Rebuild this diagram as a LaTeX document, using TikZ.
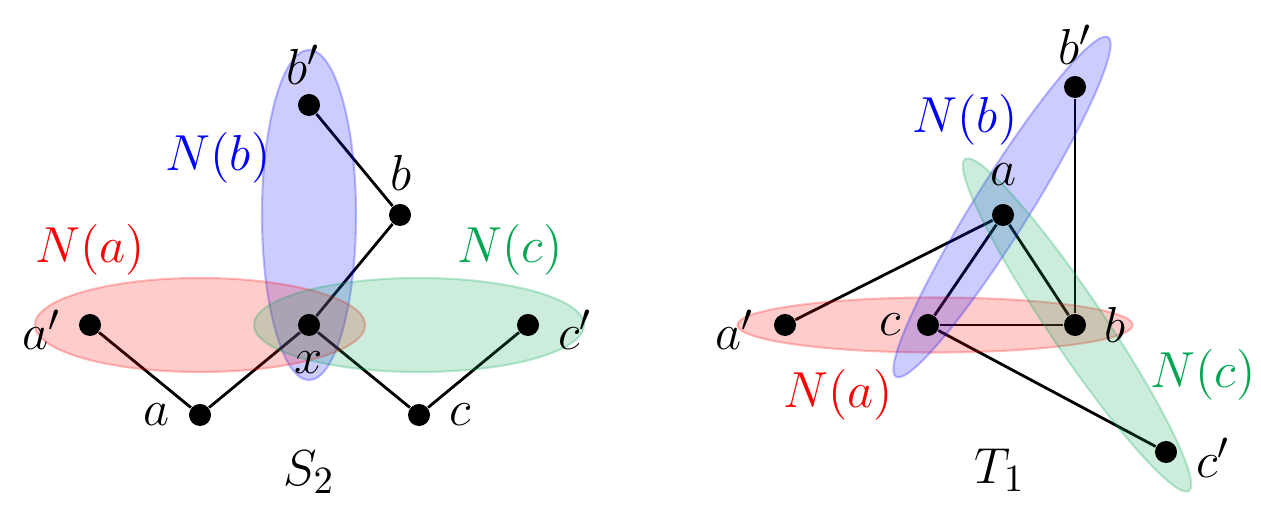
\documentclass[tikz,border=0pt]{standalone}
\usetikzlibrary{shapes.geometric}
\definecolor{ngreen}{RGB}{0,166,80}
\pgfdeclarelayer{edgelayer}
\pgfdeclarelayer{setlayer}
\pgfsetlayers{edgelayer,setlayer,main}
\begin{document}
\begin{tikzpicture}[x=0.01cm,y=-0.01cm,
  dot/.style={circle,fill=black,inner sep=0pt,minimum size=0.22cm},
  edge/.style={line width=0.8pt},
  lab/.style={font=\fontsize{15.5}{18}\selectfont,inner sep=0pt},
  blob/.style={ellipse,inner sep=0pt,line width=0.6pt,fill opacity=0.2,draw opacity=0.25},
  setR/.style={blob,fill=red,draw=red},
  setB/.style={blob,fill=blue,draw=blue},
  setG/.style={blob,fill=ngreen,draw=ngreen}]
\useasboundingbox (0,0) rectangle (1261,522);
% ---------- left: S_2 ----------
\node[dot] (bp1) at (309,105) {};
\node[dot] (b1) at (400,215) {};
\node[dot] (x1) at (309,325) {};
\node[dot] (ap1) at (90,325) {};
\node[dot] (cp1) at (528,325) {};
\node[dot] (a1) at (200,415) {};
\node[dot] (c1) at (419,415) {};
\begin{pgfonlayer}{edgelayer}
\draw[edge] (bp1) -- (b1);
\draw[edge] (b1) -- (x1);
\draw[edge] (ap1) -- (a1);
\draw[edge] (a1) -- (x1);
\draw[edge] (x1) -- (c1);
\draw[edge] (c1) -- (cp1);
\end{pgfonlayer}
\begin{pgfonlayer}{setlayer}
\node[setB,minimum width=0.94cm,minimum height=3.3cm] (eb1) at (309,215) {};
\node[setR,minimum width=3.3cm,minimum height=0.94cm] (ea1) at (200,325) {};
\node[setG,minimum width=3.3cm,minimum height=0.94cm] (ec1) at (419,325) {};
\end{pgfonlayer}
\node[lab] (lbp1) at (303,65) {$b'$};
\node[lab] (lb1) at (401,173) {$b$};
\node[lab] (lx1) at (309,363) {$x$};
\node[lab] (lap1) at (42,330) {$a'$};
\node[lab] (lcp1) at (575,330) {$c'$};
\node[lab] (la1) at (157,415) {$a$};
\node[lab] (lc1) at (460,415) {$c$};
\node[lab] (lS) at (309,472) {$S_2$};
\node[lab,text=blue] (lNb1) at (218,158) {$N(b)$};
\node[lab,text=red] (lNa1) at (90,250) {$N(a)$};
\node[lab,text=ngreen] (lNc1) at (510,250) {$N(c)$};
% ---------- right: T_1 ----------
\node[dot] (bp2) at (1075,87) {};
\node[dot] (a2) at (1003,215) {};
\node[dot] (c2) at (928,325) {};
\node[dot] (b2) at (1075,325) {};
\node[dot] (ap2) at (785,325) {};
\node[dot] (cp2) at (1166,452) {};
\begin{pgfonlayer}{edgelayer}
\draw[edge] (a2) -- (ap2);
\draw[edge] (a2) -- (c2);
\draw[edge] (a2) -- (b2);
\draw[edge] (c2) -- (b2);
\draw[edge] (b2) -- (bp2);
\draw[edge] (c2) -- (cp2);
\end{pgfonlayer}
\begin{pgfonlayer}{setlayer}
\node[setR,minimum width=3.95cm,minimum height=0.55cm] (ea2) at (935,325) {};
\node[setB,minimum width=4.0cm,minimum height=0.55cm,rotate=58] (eb2) at (1002,207) {};
\node[setG,minimum width=4.0cm,minimum height=0.55cm,rotate=-56] (ec2) at (1077,325) {};
\end{pgfonlayer}
\node[lab] (lbp2) at (1075,45) {$b'$};
\node[lab] (la2) at (1003,175) {$a$};
\node[lab] (lc2) at (890,325) {$c$};
\node[lab] (lb2) at (1115,325) {$b$};
\node[lab] (lap2) at (735,330) {$a'$};
\node[lab] (lcp2) at (1213,458) {$c'$};
\node[lab] (lT) at (1000,470) {$T_1$};
\node[lab,text=blue] (lNb2) at (965,120) {$N(b)$};
\node[lab,text=red] (lNa2) at (838,395) {$N(a)$};
\node[lab,text=ngreen] (lNc2) at (1203,375) {$N(c)$};
\end{tikzpicture}
\end{document}
